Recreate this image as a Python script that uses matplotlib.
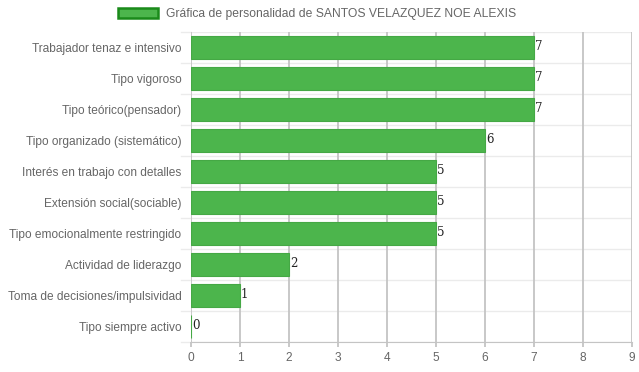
import matplotlib
matplotlib.use("Agg")
import matplotlib.pyplot as plt
from matplotlib.patches import Patch

categories = [
    "Trabajador tenaz e intensivo",
    "Tipo vigoroso",
    "Tipo teórico(pensador)",
    "Tipo organizado (sistemático)",
    "Interés en trabajo con detalles",
    "Extensión social(sociable)",
    "Tipo emocionalmente restringido",
    "Actividad de liderazgo",
    "Toma de decisiones/impulsividad",
    "Tipo siempre activo",
]
values = [7, 7, 7, 6, 5, 5, 5, 2, 1, 0]
series_label = "Gráfica de personalidad de SANTOS VELAZQUEZ NOE ALEXIS"
x_ticks = list(range(0, 10))

plt.rcParams['font.family'] = ['Liberation Sans', 'DejaVu Sans']

W, H = 639, 372
fig = plt.figure(figsize=(W / 100, H / 100), dpi=100)
left, right, top, bottom = 191, 632, 32, 342
ax = fig.add_axes([left / W, (H - bottom) / H, (right - left) / W, (bottom - top) / H])

n = len(categories)
ypos = list(range(n))
ax.barh(ypos, values, height=0.71, color="#4cb54c", edgecolor="#45a845", linewidth=0.8, zorder=2)

ax.set_xlim(0, 9)
ax.set_ylim(n - 0.5, -0.5)
ax.set_xticks(x_ticks)
ax.set_xticklabels([str(t) for t in x_ticks])
ax.set_yticks(ypos)
ax.set_yticklabels(categories)

# grid lines
for xv in x_ticks:
    ax.axvline(xv, color="#c4c4c4", linewidth=1.3, zorder=1)
for i in range(n + 1):
    ax.axhline(i - 0.5, color="#ebebeb", linewidth=1, zorder=0)

for s in ax.spines.values():
    s.set_visible(False)
ax.spines['bottom'].set_visible(True)
ax.spines['bottom'].set_color("#c4c4c4")

ax.tick_params(axis='y', length=0, pad=7, labelsize=8.6, labelcolor="#666666")
ax.tick_params(axis='x', length=3.6, width=1.3, color="#c4c4c4", pad=3.3, labelsize=8.6, labelcolor="#666666")

# tick extensions of horizontal grid lines to left
for i in range(n + 1):
    ax.plot([-10 / 49, 0], [i - 0.5, i - 0.5], color="#ebebeb", linewidth=1, clip_on=False, zorder=0)

for y, v in zip(ypos, values):
    ax.text(v + 0.02, y + 0.08, str(v), fontsize=8.5, family="DejaVu Serif",
            color="#222222", va="baseline", ha="left", zorder=3)

handle = Patch(facecolor="#4cb54c", edgecolor="#1a8a1a", linewidth=1.8)
fig.legend([handle], [series_label], loc="center", bbox_to_anchor=(317 / W, 1 - 14 / H),
           frameon=False, fontsize=8.7, handlelength=3.3, handleheight=0.9,
           handletextpad=0.7, labelcolor="#666666")

fig.savefig("out.png", dpi=100)
